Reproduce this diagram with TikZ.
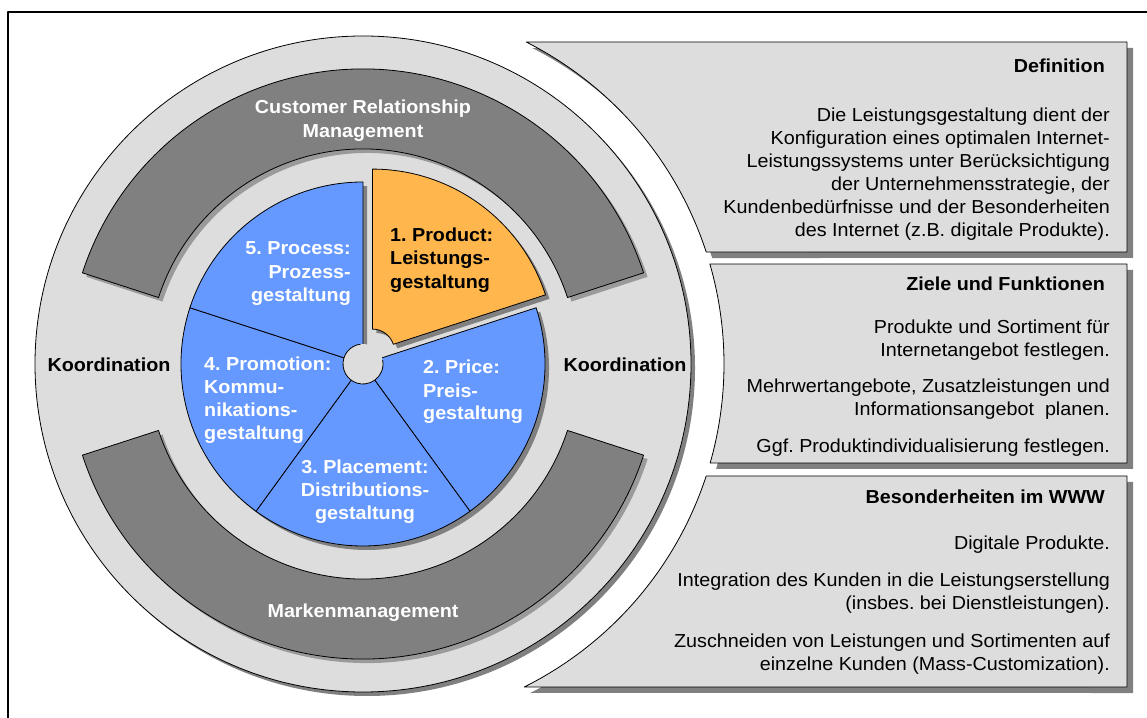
\documentclass[tikz,border=0pt]{standalone}
\usepackage{fontspec}
\setmainfont[FakeStretch=1.05]{Liberation Sans}
\frenchspacing
\definecolor{ltgray}{HTML}{DDDDDD}
\definecolor{dkgray}{HTML}{808080}
\definecolor{shadowgray}{HTML}{808080}
\definecolor{bandshadow}{HTML}{9A9A9A}
\definecolor{blueslice}{HTML}{6699FF}
\definecolor{orangeslice}{HTML}{FFB74D}
\newcommand\asecpath[7]{\path[#1] ([shift={(#2,#3)}]#6:#5) arc[start angle=#6,end angle=#7,radius=#5] -- ([shift={(#2,#3)}]#7:#4) arc[start angle=#7,end angle=#6,radius=#4] -- cycle;}
\newcommand\pspath[6]{\path[#1] (#2,#3) -- ([shift={(#2,#3)}]#5:#4) arc[start angle=#5,end angle=#6,radius=#4] -- cycle;}
\newcommand\panelpath[3]{\pgfmathsetmacro\pa{asin((#2)/361)}\pgfmathsetmacro\pb{asin((#3)/361)}\path[#1] ([shift={(363,353)}]\pa:361) arc[start angle=\pa,end angle=\pb,radius=361] -- (1127,{353+(#3)}) -- (1127,{353+(#2)}) -- cycle;}
\begin{document}
\begin{tikzpicture}[x=1pt,y=1pt,line join=round,
  outl/.style={draw=black,line width=0.8pt},
  lbl/.style={font=\fontsize{18.8}{23}\selectfont\bfseries,inner sep=0pt},
  body/.style={font=\fontsize{18.8}{23}\selectfont,inner sep=0pt,anchor=base east},
  ttl/.style={font=\fontsize{18.8}{23}\selectfont\bfseries,inner sep=0pt,anchor=base east}]
\useasboundingbox (0,0) rectangle (1147,717);
\coordinate (C) at (363,353);
% frame
\draw[line width=1.3pt] (8,-5) -- (8,705) -- (1152,705);
% outer disc
\fill[shadowgray] (367,349) circle[radius=328];
\draw[outl,fill=ltgray] (C) circle[radius=328];
% bands
\asecpath{fill=bandshadow,shift={(4,-4)}}{363}{353}{215}{295}{18}{162}
\asecpath{fill=bandshadow,shift={(4,-4)}}{363}{353}{215}{295}{198}{342}
\asecpath{outl,fill=dkgray}{363}{353}{215}{295}{18}{162}
\asecpath{outl,fill=dkgray}{363}{353}{215}{295}{198}{342}
% pie shadows
\pspath{fill=shadowgray,shift={(4,-4)}}{363}{353}{182}{18}{-54}
\pspath{fill=shadowgray,shift={(4,-4)}}{363}{353}{182}{-54}{-126}
\pspath{fill=shadowgray,shift={(4,-4)}}{363}{353}{182}{-126}{-198}
\pspath{fill=shadowgray,shift={(4,-4)}}{363}{353}{182}{162}{90}
% pie slices 2-5
\pspath{outl,fill=blueslice}{363}{353}{182}{18}{-54}
\pspath{outl,fill=blueslice}{363}{353}{182}{-54}{-126}
\pspath{outl,fill=blueslice}{363}{353}{182}{-126}{-198}
\pspath{outl,fill=blueslice}{363}{353}{182}{162}{90}
% hub
\fill[ltgray] (C) circle[radius=20];
\draw[outl] ([shift={(363,353)}]97:20) arc[start angle=97,end angle=372,radius=20];
% slice 1 (exploded)
\asecpath{fill=shadowgray,shift={(4,-4)}}{372.4}{365.9}{22}{182}{90}{18}
\asecpath{outl,fill=orangeslice}{372.4}{365.9}{22}{182}{90}{18}
% ring labels
\node[lbl,white,anchor=base] (crm1) at (363,603.5) {Customer Relationship};
\node[lbl,white,anchor=base] (crm2) at (363,579.5) {Management};
\node[lbl,white,anchor=base] (mm) at (363,99.5) {Markenmanagement};
\node[lbl,anchor=base] (koL) at (109,345.5) {Koordination};
\node[lbl,anchor=base] (koR) at (625,345.5) {Koordination};
% slice labels
\node[lbl,anchor=base west] (s1a) at (390,475.5) {1. Product:};
\node[lbl,anchor=base west] (s1b) at (390,452.5) {Leistungs-};
\node[lbl,anchor=base west] (s1c) at (390,428.5) {gestaltung};
\node[lbl,white,anchor=base east] (s5a) at (351,462.5) {5. Process:};
\node[lbl,white,anchor=base east] (s5b) at (351,438.5) {Prozess-};
\node[lbl,white,anchor=base east] (s5c) at (351,415.5) {gestaltung};
\node[lbl,white,anchor=base west] (s4a) at (204,346.5) {4. Promotion:};
\node[lbl,white,anchor=base west] (s4b) at (204,323.5) {Kommu-};
\node[lbl,white,anchor=base west] (s4c) at (204,300.5) {nikations-};
\node[lbl,white,anchor=base west] (s4d) at (204,277.5) {gestaltung};
\node[lbl,white,anchor=base west] (s2a) at (423,343.5) {2. Price:};
\node[lbl,white,anchor=base west] (s2b) at (423,319.5) {Preis-};
\node[lbl,white,anchor=base west] (s2c) at (423,297.5) {gestaltung};
\node[lbl,white,anchor=base] (s3a) at (365,243.5) {3. Placement:};
\node[lbl,white,anchor=base] (s3b) at (365,220.5) {Distributions-};
\node[lbl,white,anchor=base] (s3c) at (365,197.5) {gestaltung};
% panels
\panelpath{fill=shadowgray,shift={(6,-6)}}{322}{112}
\panelpath{fill=shadowgray,shift={(6,-6)}}{100}{-99}
\panelpath{fill=shadowgray,shift={(6,-6)}}{-112}{-323}
\panelpath{outl,fill=ltgray}{322}{112}
\panelpath{outl,fill=ltgray}{100}{-99}
\panelpath{outl,fill=ltgray}{-112}{-323}
% panel 1
\node[ttl] (t1) at (1105,644.5) {Definition};
\foreach \t/\yy [count=\i] in {{Die Leistungsgestaltung dient der}/595.5,{Konfiguration eines optimalen Internet-}/572.5,{Leistungssystems unter Berücksichtigung}/549.5,{der Unternehmensstrategie, der}/526.5,{Kundenbedürfnisse und der Besonderheiten}/503.5,{des Internet (z.B. digitale Produkte).}/480.5}
  \node[body] (a\i) at (1110,\yy) {\t};
% panel 2
\node[ttl] (t2) at (1105,426.5) {Ziele und Funktionen};
\foreach \t/\yy [count=\i] in {{Produkte und Sortiment für}/383.5,{Internetangebot festlegen.}/360.5,{Mehrwertangebote, Zusatzleistungen und}/324.5,{Informationsangebot\ \ planen.}/301.5,{Ggf. Produktindividualisierung festlegen.}/264.5}
  \node[body] (b\i) at (1110,\yy) {\t};
% panel 3
\node[ttl] (t3) at (1105,213.5) {Besonderheiten im WWW};
\foreach \t/\yy [count=\i] in {{Digitale Produkte.}/167.5,{Integration des Kunden in die Leistungserstellung}/130.5,{(insbes. bei Dienstleistungen).}/107.5,{Zuschneiden von Leistungen und Sortimenten auf}/69.5,{einzelne Kunden (Mass-Customization).}/46.5}
  \node[body] (c\i) at (1110,\yy) {\t};
\end{tikzpicture}
\end{document}
